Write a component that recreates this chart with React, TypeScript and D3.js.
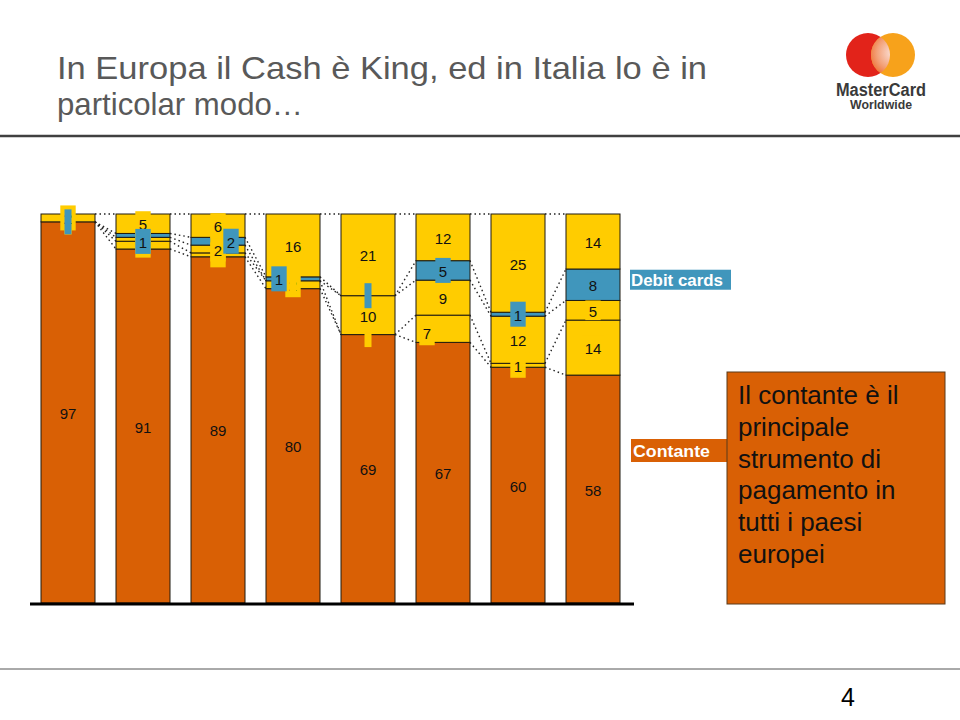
import React from 'react';
import * as d3 from 'd3';

// one entry per bar, left to right (country names are not readable in the picture)
const BARS = ['b1', 'b2', 'b3', 'b4', 'b5', 'b6', 'b7', 'b8'];

// shares in %, bottom to top of each bar
const CASH = [97, 91, 89, 80, 69, 67, 60, 58];
const OTHER_LOW = [0, 2, 1, 2, 0, 7, 1, 14];
const OTHER_MID = [0, 1, 2, 0, 10, 9, 12, 5];
const DEBIT = [0, 1, 2, 1, 0, 5, 1, 8];
const CREDIT = [2, 5, 6, 16, 21, 12, 25, 14];

const SERIES = ['cash', 'otherLow', 'otherMid', 'debit', 'credit'];
const CALLOUT_LINES = ['Il contante è il', 'principale', 'strumento di', 'pagamento in', 'tutti i paesi', 'europei'];
const TITLE_LINES = ['In Europa il Cash è King, ed in Italia lo è in', 'particolar modo…'];

const ORANGE = '#D96005';
const YELLOW = '#FFCC00';
const BLUE = '#4096BC';
const COLORS: Record<string, string> = {
  cash: ORANGE,
  otherLow: YELLOW,
  otherMid: YELLOW,
  debit: BLUE,
  credit: YELLOW,
};

// small hand nudges for crowded labels, like the original slide
const LABEL_NUDGE: Record<string, [number, number]> = {
  '1-debit': [0, 6],
  '2-debit': [13, 0],
  '3-debit': [-14, 0],
  '5-otherLow': [-16, 4],
};

const FONT = 'Liberation Sans, Arial, Helvetica, sans-serif';

type Row = { id: string; [k: string]: number | string };

const rows: Row[] = BARS.map((id, i) => ({
  id,
  cash: CASH[i],
  otherLow: OTHER_LOW[i],
  otherMid: OTHER_MID[i],
  debit: DEBIT[i],
  credit: CREDIT[i],
}));

const App: React.FC = () => {
  const x = d3.scaleBand<string>().domain(BARS).range([41, 620]).paddingInner(0.28).paddingOuter(0);
  const y = d3.scaleLinear().domain([0, 1]).range([603, 214]);
  const bw = x.bandwidth();

  const stack = d3
    .stack<Row>()
    .keys(SERIES)
    .value((d, k) => d[k] as number)
    .offset(d3.stackOffsetExpand);
  const layers = stack(rows);
  const byKey: Record<string, d3.Series<Row, string>> = {};
  layers.forEach((l) => (byKey[l.key] = l));

  // connector lines between segment tops of neighbouring bars
  const connectors: JSX.Element[] = [];
  layers.forEach((layer) => {
    for (let i = 0; i < BARS.length - 1; i++) {
      connectors.push(
        <line
          key={`c-${layer.key}-${i}`}
          x1={(x(BARS[i]) ?? 0) + bw}
          x2={x(BARS[i + 1]) ?? 0}
          y1={y(layer[i][1])}
          y2={y(layer[i + 1][1])}
          stroke="#222"
          strokeWidth={1.4}
          strokeDasharray="1.5,3"
        />
      );
    }
  });

  const labelOrder = ['otherLow', 'otherMid', 'credit', 'debit'];
  const labels: JSX.Element[] = [];
  labelOrder.forEach((key) => {
    const layer = byKey[key];
    layer.forEach((seg, i) => {
      const v = seg.data[key] as number;
      const nudge = LABEL_NUDGE[`${i}-${key}`] ?? [0, 0];
      const cx = (x(BARS[i]) ?? 0) + bw / 2 + nudge[0];
      const cy = (y(seg[0]) + y(seg[1])) / 2 + nudge[1];
      const txt = v > 0 ? String(v) : '';
      const w = txt.length * 8.4 + 7;
      let top = cy - 12.5;
      let bottom = cy + 12.5;
      // keep yellow boxes out of a wide blue band right above them
      if (key === 'otherMid' && (seg.data.debit as number) >= 5) top = Math.max(top, y(seg[1]));
      if (key === 'otherMid' && (seg.data.otherLow as number) >= 5) bottom = Math.min(bottom, y(seg[0]));
      labels.push(
        <g key={`l-${key}-${i}`}>
          <rect x={cx - w / 2} y={top} width={w} height={bottom - top} fill={COLORS[key]} />
          {txt && (
            <text x={cx} y={cy + 1} textAnchor="middle" dominantBaseline="central" fontSize={15} fill="#111">
              {txt}
            </text>
          )}
        </g>
      );
    });
  });

  const cashLayer = byKey['cash'];
  const debitLayer = byKey['debit'];
  const last = BARS.length - 1;
  const debitLegendY = (y(debitLayer[last][0]) + y(debitLayer[last][1])) / 2 - 5;

  return (
    <svg width={960} height={720} style={{ position: 'absolute', left: 0, top: 0, background: '#fff' }} fontFamily={FONT}>
      <defs>
        <radialGradient id="mcMix" cx="0.5" cy="0.45" r="0.6">
          <stop offset="0" stopColor="#fbe3dc" />
          <stop offset="0.6" stopColor="#f3a27a" />
          <stop offset="1" stopColor="#ee6a2c" />
        </radialGradient>
        <clipPath id="mcLeft">
          <circle cx={868} cy={55} r={22} />
        </clipPath>
      </defs>

      {/* title */}
      {TITLE_LINES.map((t, i) => (
        <text
          key={t}
          x={57}
          y={79 + i * 36}
          fontSize={32}
          fill="#595959"
          textLength={i === 0 ? 650 : 246}
          lengthAdjust="spacingAndGlyphs"
        >
          {t}
        </text>
      ))}

      {/* logo */}
      <circle cx={868} cy={55} r={22} fill="#E2231A" />
      <circle cx={893} cy={55} r={22} fill="#F7A21B" />
      <circle cx={893} cy={55} r={22} fill="url(#mcMix)" clipPath="url(#mcLeft)" />
      <text x={881} y={96} textAnchor="middle" fontSize={17.5} fontWeight="bold" fill="#3a3a3a" textLength={90} lengthAdjust="spacingAndGlyphs">
        MasterCard
      </text>
      <text x={881} y={109} textAnchor="middle" fontSize={13.5} fontWeight="bold" fill="#3a3a3a" textLength={62} lengthAdjust="spacingAndGlyphs">
        Worldwide
      </text>

      <line x1={0} x2={960} y1={136} y2={136} stroke="#404040" strokeWidth={2.5} />

      {/* stacked bars */}
      {layers.map((layer) =>
        layer.map((seg, i) => (
          <rect
            key={`${layer.key}-${i}`}
            x={x(BARS[i])}
            y={y(seg[1])}
            width={bw}
            height={Math.max(0, y(seg[0]) - y(seg[1]))}
            fill={COLORS[layer.key]}
            stroke="#1e1a10"
            strokeWidth={1}
          />
        ))
      )}

      {connectors}
      {labels}

      {/* cash labels */}
      {cashLayer.map((seg, i) => (
        <text
          key={`cash-${i}`}
          x={(x(BARS[i]) ?? 0) + bw / 2}
          y={(y(seg[0]) + y(seg[1])) / 2 + 1}
          textAnchor="middle"
          dominantBaseline="central"
          fontSize={15}
          fill="#111"
        >
          {seg.data.cash as number}
        </text>
      ))}

      {/* baseline */}
      <line x1={x.range()[0] - 11} x2={x.range()[1] + 14} y1={y(0) + 1} y2={y(0) + 1} stroke="#000" strokeWidth={3} />

      {/* series labels */}
      <rect x={630} y={debitLegendY - 10} width={101} height={20} fill={BLUE} />
      <text x={631} y={debitLegendY + 6} fontSize={16.5} fontWeight="bold" fill="#fff" textLength={92} lengthAdjust="spacingAndGlyphs">
        Debit cards
      </text>

      <rect x={631} y={439} width={97} height={23} fill={ORANGE} />
      <text x={633} y={457} fontSize={17} fontWeight="bold" fill="#fff" textLength={77} lengthAdjust="spacingAndGlyphs">
        Contante
      </text>

      {/* callout */}
      <rect x={727} y={372} width={218} height={232} fill={ORANGE} stroke="#5a3a1a" strokeWidth={1} />
      {CALLOUT_LINES.map((t, i) => (
        <text key={t} x={738} y={404 + i * 31.8} fontSize={26} fill="#111">
          {t}
        </text>
      ))}

      <line x1={0} x2={960} y1={669} y2={669} stroke="#555" strokeWidth={1} />
      <text x={848} y={706} textAnchor="middle" fontSize={25} fill="#000">
        4
      </text>
    </svg>
  );
};

export default App;
